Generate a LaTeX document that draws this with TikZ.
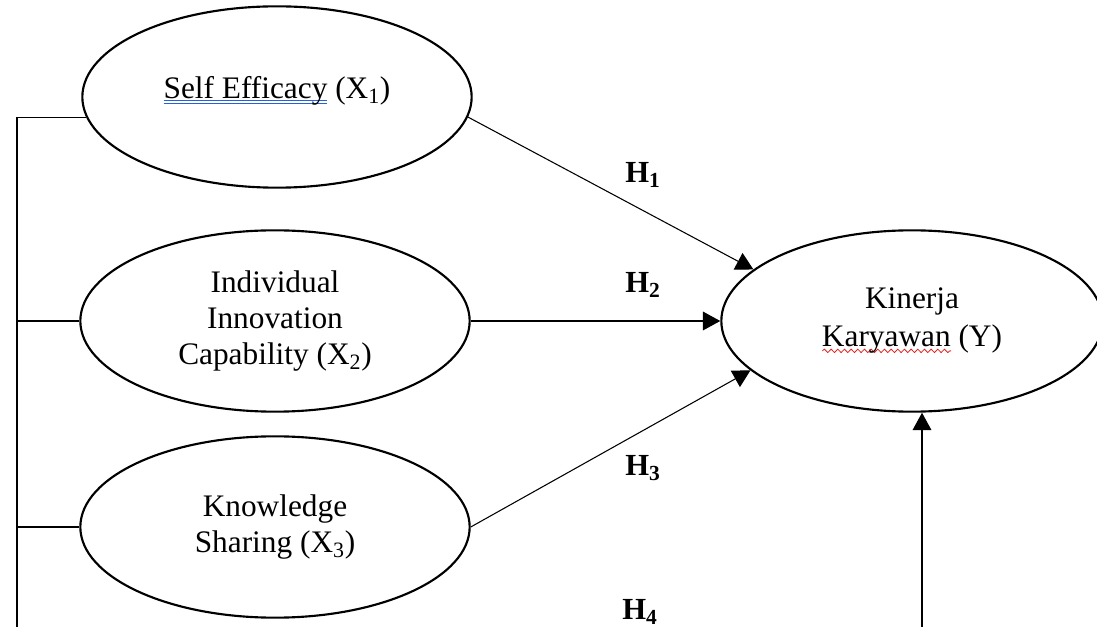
\documentclass[tikz,border=0pt]{standalone}
\usepackage{fontspec}
\setmainfont{Liberation Serif}
\usetikzlibrary{shapes.geometric,arrows.meta,positioning,calc,decorations.pathmorphing}
\definecolor{spellblue}{RGB}{40,95,225}
\definecolor{spellred}{RGB}{230,30,30}
\newsavebox\markbox
\newcommand\blueuline[1]{\sbox\markbox{#1}\rlap{\textcolor{spellblue}{\rule[-2pt]{\wd\markbox}{0.8pt}}}\rlap{\textcolor{spellblue}{\rule[-4.6pt]{\wd\markbox}{0.8pt}}}\usebox\markbox}
\newcommand\redwave[1]{\sbox\markbox{#1}\rlap{\raisebox{-4.5pt}{\tikz[x=1pt,y=1pt]\draw[spellred,line width=0.6pt,decorate,decoration={snake,segment length=5pt,amplitude=1.3pt}] (0,0) -- (\wd\markbox,0);}}\usebox\markbox}
\begin{document}
\begin{tikzpicture}
[x=0.75pt,y=-0.75pt,
latent/.style={shape=ellipse,draw=black,line width=1.6pt,minimum width=292pt,minimum height=136pt,inner sep=0pt,align=center,font=\fontsize{23.5}{27}\selectfont},
hyp/.style={font=\fontsize{23}{26}\selectfont\bfseries},
myedge/.style={line width=0.8pt},
myarrow/.style={myedge,-{Triangle[length=13pt,width=14pt]}}]
\useasboundingbox (0,0) rectangle (1097,627);
\clip (0,0) rectangle (1097,627);
%%
\node (x1) [latent] at (277,97) {\blueuline{Self Efficacy} (X\textsubscript{1})\rule[-15pt]{0pt}{1pt}};
\node (x2) [latent] at (275,321) {Individual\\Innovation\\Capability (X\textsubscript{2})};
\node (x3) [latent] at (275,527) {Knowledge\\Sharing (X\textsubscript{3})};
\node (y) [latent,minimum width=286pt,font=\fontsize{23.5}{28.5}\selectfont] at (912,321) {Kinerja\\\redwave{Karyawan} (Y)};
%%
\node (h1) [hyp] at (643,175) {H\textsubscript{1}};
\node (h2) [hyp] at (643,285) {H\textsubscript{2}};
\node (h3) [hyp] at (643,468) {H\textsubscript{3}};
\node (h4) [hyp] at (640,612) {H\textsubscript{4}};
%%
\coordinate (bus) at (17,627);
\draw[myedge] (bus) |- (x1.186);
\draw[myedge] (x2.west) -- (x2.west -| bus);
\draw[myedge] (x3.west) -- (x3.west -| bus);
%%
\draw[myarrow] (x1.-6) -- (y.162);
\draw[myarrow] (x2.east) -- (y.west);
\draw[myarrow] (x3.east) -- (y.197);
\coordinate (b4) at (922,627);
\draw[myarrow] (b4) -- (b4 |- y.south);
%%
\end{tikzpicture}
\end{document}
